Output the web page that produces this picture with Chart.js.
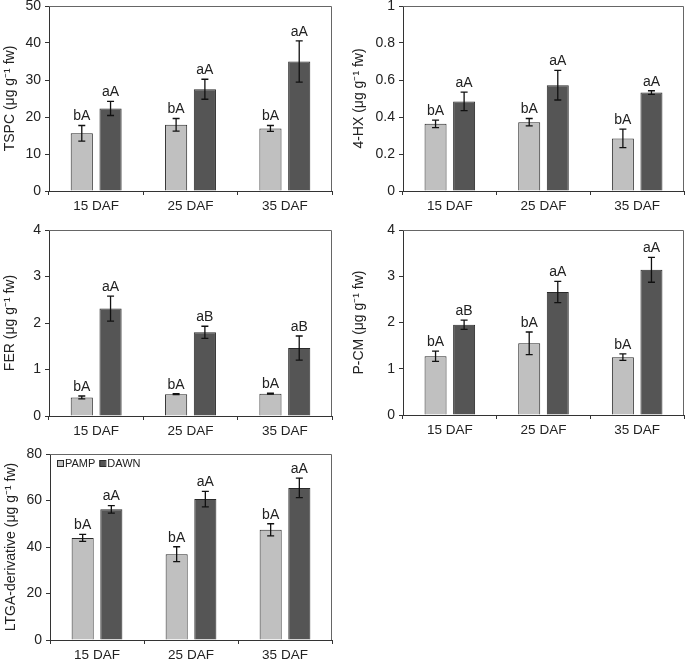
<!DOCTYPE html>
<html>
<head>
<meta charset="utf-8">
<script src="https://cdn.jsdelivr.net/npm/chart.js@4.4.1/dist/chart.umd.min.js"></script>
<style>
  html, body { margin: 0; padding: 0; background: #fff; overflow: hidden; }
  body { width: 685px; height: 661px; position: relative; }
  canvas { position: absolute; }
</style>
</head>
<body>
<canvas id="c1" width="340" height="233" style="left:0px;top:-20px"></canvas>
<canvas id="c2" width="340" height="233" style="left:345px;top:-20px"></canvas>
<canvas id="c3" width="340" height="233" style="left:0px;top:204px"></canvas>
<canvas id="c4" width="340" height="233" style="left:345px;top:204px"></canvas>
<canvas id="c5" width="340" height="233" style="left:0px;top:428px"></canvas>
<script>
// categorias e séries
const categorias = ['15 DAF', '25 DAF', '35 DAF'];
const series = ['PAMP', 'DAWN'];

// TSPC
const tspcPamp = [15.6, 17.9, 16.9];
const tspcPampErr = [2.1, 1.7, 0.8];
const tspcDawn = [22.3, 27.5, 35.0];
const tspcDawnErr = [1.9, 2.7, 5.6];
const tspcPampLetras = ['bA', 'bA', 'bA'];
const tspcDawnLetras = ['aA', 'aA', 'aA'];

// 4-HX
const hxPamp = [0.363, 0.372, 0.284];
const hxPampErr = [0.02, 0.02, 0.05];
const hxDawn = [0.484, 0.572, 0.532];
const hxDawnErr = [0.05, 0.08, 0.01];
const hxPampLetras = ['bA', 'bA', 'bA'];
const hxDawnLetras = ['aA', 'aA', 'aA'];

// FER
const ferPamp = [0.40, 0.47, 0.48];
const ferPampErr = [0.03, 0.01, 0.01];
const ferDawn = [2.31, 1.80, 1.46];
const ferDawnErr = [0.27, 0.13, 0.26];
const ferPampLetras = ['bA', 'bA', 'bA'];
const ferDawnLetras = ['aA', 'aB', 'aB'];

// P-CM
const pcmPamp = [1.27, 1.55, 1.25];
const pcmPampErr = [0.11, 0.245, 0.07];
const pcmDawn = [1.95, 2.66, 3.14];
const pcmDawnErr = [0.10, 0.23, 0.27];
const pcmPampLetras = ['bA', 'bA', 'bA'];
const pcmDawnLetras = ['aB', 'aA', 'aA'];

// LTGA-derivative
const ltgaPamp = [43.9, 36.9, 47.4];
const ltgaPampErr = [1.5, 3.2, 2.6];
const ltgaDawn = [56.2, 60.6, 65.4];
const ltgaDawnErr = [1.6, 3.3, 4.2];
const ltgaPampLetras = ['bA', 'bA', 'bA'];
const ltgaDawnLetras = ['aA', 'aA', 'aA'];

const FONTE = '"Liberation Sans", Arial, Helvetica, sans-serif';
const corClara = '#c0c0c0';
const corEscura = '#555555';
const corBorda = '#2a2a2a';
const corTexto = '#222';

// barras de erro e letras
const pluginErros = {
    id: 'erros',
    afterDatasetsDraw(chart) {
        const ctx = chart.ctx;
        const y = chart.scales.y;
        chart.data.datasets.forEach((ds, i) => {
            const meta = chart.getDatasetMeta(i);
            meta.data.forEach((bar, j) => {
                const v = ds.data[j], e = ds.erros[j];
                const yTop = y.getPixelForValue(v + e);
                const yBot = y.getPixelForValue(v - e);
                ctx.save();
                ctx.strokeStyle = '#111';
                ctx.lineWidth = 1.3;
                ctx.beginPath();
                ctx.moveTo(bar.x, yTop); ctx.lineTo(bar.x, yBot);
                ctx.moveTo(bar.x - 3.5, yTop); ctx.lineTo(bar.x + 3.5, yTop);
                ctx.moveTo(bar.x - 3.5, yBot); ctx.lineTo(bar.x + 3.5, yBot);
                ctx.stroke();
                ctx.fillStyle = corTexto;
                ctx.font = '14px ' + FONTE;
                ctx.textAlign = 'center';
                ctx.textBaseline = 'bottom';
                ctx.fillText(ds.letras[j], bar.x, yTop - 2);
                ctx.restore();
            });
        });
    }
};

// moldura superior e direita
const pluginMoldura = {
    id: 'moldura',
    afterDraw(chart) {
        const a = chart.chartArea, ctx = chart.ctx;
        ctx.save();
        ctx.strokeStyle = '#666';
        ctx.lineWidth = 1;
        ctx.beginPath();
        ctx.moveTo(a.left, a.top + 0.5);
        ctx.lineTo(a.right - 0.5, a.top + 0.5);
        ctx.lineTo(a.right - 0.5, a.bottom);
        ctx.stroke();
        ctx.restore();
    }
};

// legenda dentro da área do gráfico
const pluginLegenda = {
    id: 'legendaInterna',
    afterDraw(chart, args, opts) {
        if (!opts.mostrar) return;
        const a = chart.chartArea, ctx = chart.ctx;
        let x = a.left + 7;
        const yc = a.top + 9;
        ctx.save();
        ctx.font = '11px ' + FONTE;
        ctx.textBaseline = 'middle';
        chart.data.datasets.forEach(ds => {
            ctx.fillStyle = ds.backgroundColor;
            ctx.fillRect(x, yc - 3, 6, 6);
            ctx.strokeStyle = corBorda;
            ctx.lineWidth = 1;
            ctx.strokeRect(x + 0.5, yc - 2.5, 6, 6);
            ctx.fillStyle = corTexto;
            ctx.fillText(ds.label, x + 8, yc + 0.5);
            x += 8 + ctx.measureText(ds.label).width + 4;
        });
        ctx.restore();
    }
};

function desenharPainel(id, cfg) {
    const canvas = document.getElementById(id);
    const cLeft = parseFloat(canvas.style.left), cTop = parseFloat(canvas.style.top);
    const yLargura = cfg.area[0] - cLeft;
    const padTop = cfg.area[1] - cTop;
    const padRight = cLeft + canvas.width - cfg.area[2];
    const xAltura = cTop + canvas.height - cfg.area[3];

    new Chart(canvas.getContext('2d'), {
        type: 'bar',
        data: {
            labels: categorias,
            datasets: [
                { label: series[0], data: cfg.pamp, erros: cfg.pampErr, letras: cfg.pampLetras,
                  backgroundColor: corClara, borderColor: corBorda, borderWidth: 1,
                  barPercentage: 0.77, categoryPercentage: 0.61 },
                { label: series[1], data: cfg.dawn, erros: cfg.dawnErr, letras: cfg.dawnLetras,
                  backgroundColor: corEscura, borderColor: corBorda, borderWidth: 1,
                  barPercentage: 0.77, categoryPercentage: 0.61 }
            ]
        },
        options: {
            responsive: false,
            animation: false,
            devicePixelRatio: 1,
            layout: { padding: { top: padTop, right: padRight, left: 0, bottom: 0 } },
            plugins: {
                legend: { display: false },
                tooltip: { enabled: false },
                legendaInterna: { mostrar: !!cfg.legenda }
            },
            scales: {
                x: {
                    grid: { offset: true, drawOnChartArea: false, tickLength: 4, color: '#333' },
                    border: { color: '#333', width: 1 },
                    ticks: { color: corTexto, font: { family: FONTE, size: 13.5 }, padding: 3, maxRotation: 0 },
                    afterFit(s) { s.height = xAltura; }
                },
                y: {
                    min: 0, max: cfg.max,
                    ticks: { stepSize: cfg.passo, color: corTexto, font: { family: FONTE, size: 14 }, padding: 4,
                             callback: v => String(+v.toFixed(2)) },
                    grid: { drawOnChartArea: false, tickLength: 4, color: '#333' },
                    border: { color: '#333', width: 1 },
                    title: { display: true, text: cfg.titulo, color: corTexto,
                             font: { family: FONTE, size: 14 }, padding: { top: cfg.tituloPad, bottom: 0 } },
                    afterFit(s) { s.width = yLargura; }
                }
            }
        },
        plugins: [pluginErros, pluginMoldura, pluginLegenda]
    });
}

desenharPainel('c1', { area: [49, 6, 332, 191], max: 50, passo: 10, titulo: 'TSPC (μg g⁻¹ fw)',
    pamp: tspcPamp, pampErr: tspcPampErr, dawn: tspcDawn, dawnErr: tspcDawnErr,
    pampLetras: tspcPampLetras, dawnLetras: tspcDawnLetras, tituloPad: 2 });
desenharPainel('c2', { area: [403, 6, 684, 191], max: 1, passo: 0.2, titulo: '4-HX (μg g⁻¹ fw)',
    pamp: hxPamp, pampErr: hxPampErr, dawn: hxDawn, dawnErr: hxDawnErr,
    pampLetras: hxPampLetras, dawnLetras: hxDawnLetras, tituloPad: 6 });
desenharPainel('c3', { area: [49, 230, 332, 416], max: 4, passo: 1, titulo: 'FER (μg g⁻¹ fw)',
    pamp: ferPamp, pampErr: ferPampErr, dawn: ferDawn, dawnErr: ferDawnErr,
    pampLetras: ferPampLetras, dawnLetras: ferDawnLetras, tituloPad: 2 });
desenharPainel('c4', { area: [403, 230, 684, 415], max: 4, passo: 1, titulo: 'P-CM (μg g⁻¹ fw)',
    pamp: pcmPamp, pampErr: pcmPampErr, dawn: pcmDawn, dawnErr: pcmDawnErr,
    pampLetras: pcmPampLetras, dawnLetras: pcmDawnLetras, tituloPad: 6 });
desenharPainel('c5', { area: [50, 454, 332, 640], max: 80, passo: 20, titulo: 'LTGA-derivative (μg g⁻¹ fw)',
    pamp: ltgaPamp, pampErr: ltgaPampErr, dawn: ltgaDawn, dawnErr: ltgaDawnErr,
    pampLetras: ltgaPampLetras, dawnLetras: ltgaDawnLetras, tituloPad: 3, legenda: true });
</script>
</body>
</html>
